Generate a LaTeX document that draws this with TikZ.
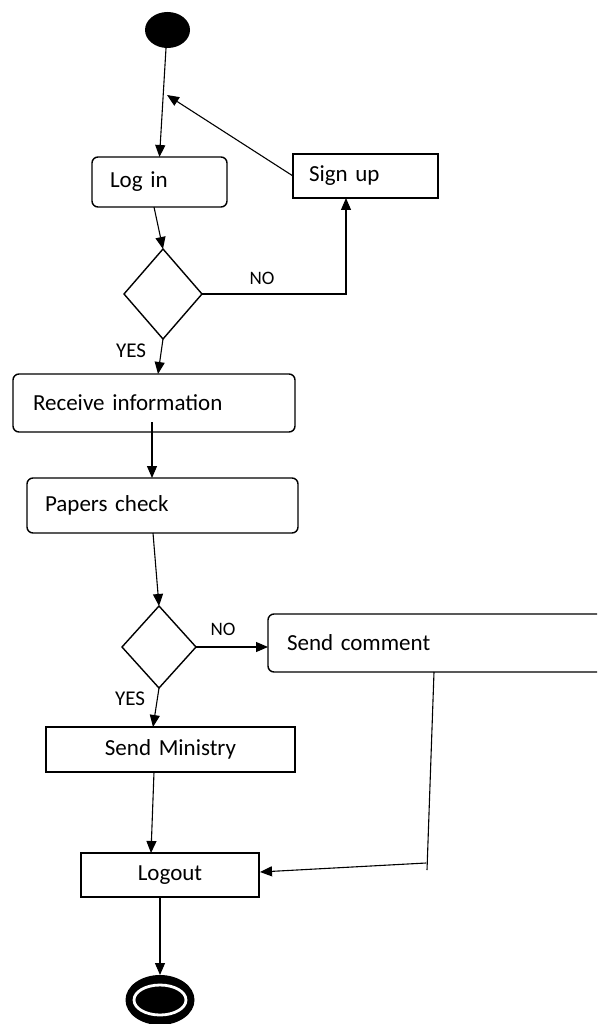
\documentclass[tikz,border=0pt]{standalone}
\usepackage{fontspec}
\newfontfamily\boxfont{Carlito}
\usetikzlibrary{shapes.geometric,arrows.meta,calc}

\begin{document}
\begin{tikzpicture}[x=1pt,y=-1pt,
  act/.style={draw=black, line width=1.4pt, rounded corners=6pt, anchor=north west,
    inner xsep=18pt, inner ysep=0pt, outer sep=0pt, align=left,
    font=\boxfont\fontsize{23}{27}\selectfont},
  plainbox/.style={act, rounded corners=0pt, align=center},
  choice/.style={draw, diamond, line width=1.4pt, inner sep=0pt, outer sep=0pt,
    minimum width=78pt, minimum height=90pt},
  flow/.style={line width=1.1pt, -{Triangle[length=12pt,width=10pt]}},
  wire/.style={line width=1.1pt},
  guard/.style={font=\boxfont\fontsize{19}{22}\selectfont},
  yesguard/.style={font=\boxfont\fontsize{21}{24}\selectfont},
]
\useasboundingbox (0,0) rectangle (597,1024);
\clip (0,0) rectangle (597,1024);

% initial and final states
\node[ellipse, fill=black, inner sep=0pt, minimum width=45pt, minimum height=36pt] (start) at (167.5,30) {};
\node[ellipse, fill=black, inner sep=0pt, outer sep=0pt, minimum width=69pt, minimum height=50pt] (finish) at (160,1000) {};
\draw[white, line width=2.8pt] (finish.center) ellipse [x radius=26pt, y radius=15pt];

% activities
\node[act, text width=99pt, minimum height=50pt] (login) at (92,157) {Log in};
\node[act, rounded corners=0pt, inner xsep=16pt, text width=113pt, minimum height=44pt] (signup) at (293,154) {Sign up};
\node[act, inner xsep=20pt, text width=242pt, minimum height=58pt] (recv) at (13,374) {Receive information};
\node[act, text width=235pt, minimum height=55pt] (papers) at (27,478) {Papers check};
\node[act, inner xsep=19pt, text width=334pt, minimum height=58pt] (comment) at (268,614) {Send comment};
\node[plainbox, text width=213pt, minimum height=45pt] (ministry) at (46,727) {Send Ministry};
\node[plainbox, text width=142pt, minimum height=44pt] (logout) at (81,853) {Logout};

% decisions
\node[choice] (d1) at (163,294) {};
\node[choice, minimum width=74pt, minimum height=82pt] (d2) at (159,647) {};

% connectors
\coordinate (rejoin) at (167,95);
\coordinate (ctail) at (427,870);
\coordinate (cbend) at (426,863);

\draw[flow] ([xshift=-1.5pt]start.south) -- (login.north);
\draw[flow] (signup.west) -- (rejoin);
\draw[flow] ([xshift=-5.5pt]login.south) -- (d1.north);
\draw[flow] (d1.east) -| ([xshift=-19.5pt]signup.south);
\draw[flow] (d1.south) -- ([xshift=4pt]recv.north);
\draw[flow] ([xshift=-2pt,yshift=10pt]recv.south) -- ([xshift=-10.5pt]papers.north);
\draw[flow] ([xshift=-9.5pt]papers.south) -- (d2.north);
\draw[flow] (d2.east) -- (d2.east -| comment.west);
\draw[flow] (d2.south) -- ([xshift=-17.5pt]ministry.north);
\draw[flow] ([xshift=-16.5pt]ministry.south) -- ([xshift=-19pt]logout.north);
\draw[wire] ([xshift=-20pt]comment.south) -- (ctail);
\draw[flow] (cbend) -- ([xshift=1pt,yshift=3pt]logout.east);
\draw[flow] ([xshift=-10pt]logout.south) -- (finish.north);

% guards
\node[guard] (no1) at (262,278) {NO};
\node[guard] (no2) at (223,629) {NO};
\node[yesguard] (yes1) at (131,351) {YES};
\node[yesguard] (yes2) at (130,699) {YES};
\end{tikzpicture}
\end{document}
